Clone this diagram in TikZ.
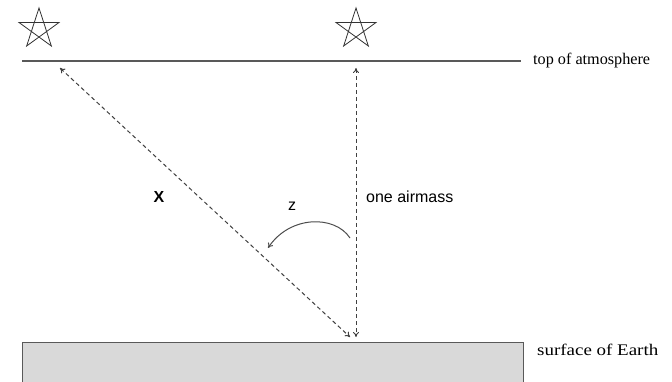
\documentclass[tikz,border=0pt]{standalone}
\usepackage{fontspec}
\setmainfont{Liberation Serif}
\newfontfamily\labsans{Liberation Sans}
\usetikzlibrary{arrows.meta}
\begin{document}
\begin{tikzpicture}[x=1pt,y=-1pt,
  starshape/.style={draw=black!80,line width=0.8pt,line join=miter},
  dashray/.style={draw=black!75,line width=1pt,dash pattern=on 4pt off 3pt,{To[length=5pt,width=6pt]}-{To[length=5pt,width=6pt]}},
  bound/.style={draw=black!65,line width=1.4pt},
  lab/.style={font=\fontsize{16.2}{18}\selectfont,anchor=west,inner sep=0pt},
  slab/.style={font=\labsans\fontsize{16}{18}\selectfont,inner sep=0pt}]
\useasboundingbox (0,0) rectangle (672,382);
% earth
\filldraw[fill=black!15,draw=black!65,line width=1pt] (22,342) rectangle (523,390);
% top of atmosphere
\coordinate (tl) at (22,61);
\coordinate (tr) at (521,61);
\draw[bound] (tl) -- (tr);
\node[lab] (top) at (533,61) {top of atmosphere};
\node[lab] (surf) at (537,350) {\scalebox{1.17}[1]{surface of Earth}};
% stars
\foreach \cx/\nm in {39/sa,356/sb}{
  \coordinate (\nm) at (\cx,29);
  \draw[starshape] ([shift={(-90:21)}]\nm) -- ([shift={(-234:21)}]\nm) -- ([shift={(-18:21)}]\nm) -- ([shift={(-162:21)}]\nm) -- ([shift={(-306:21)}]\nm) -- cycle;
}
% rays
\coordinate (ltop) at (60,68);
\coordinate (lbot) at (350,337);
\coordinate (vtop) at (356,68);
\coordinate (vbot) at (356,337);
\draw[dashray] (ltop) -- (lbot);
\draw[dashray] (vtop) -- (vbot);
% zenith angle arc
\coordinate (za) at (350,238);
\coordinate (zb) at (268,248);
\draw[draw=black!70,line width=1pt,-{To[length=5pt,width=6pt]}] (za) .. controls (335,215) and (290,215) .. (zb);
% labels
\node[slab,font=\labsans\bfseries\fontsize{16}{18}\selectfont] (xl) at (159,196.5) {X};
\node[slab] (zl) at (292,206) {z};
\node[slab,anchor=west] (air) at (366,197) {one airmass};
\end{tikzpicture}
\end{document}
